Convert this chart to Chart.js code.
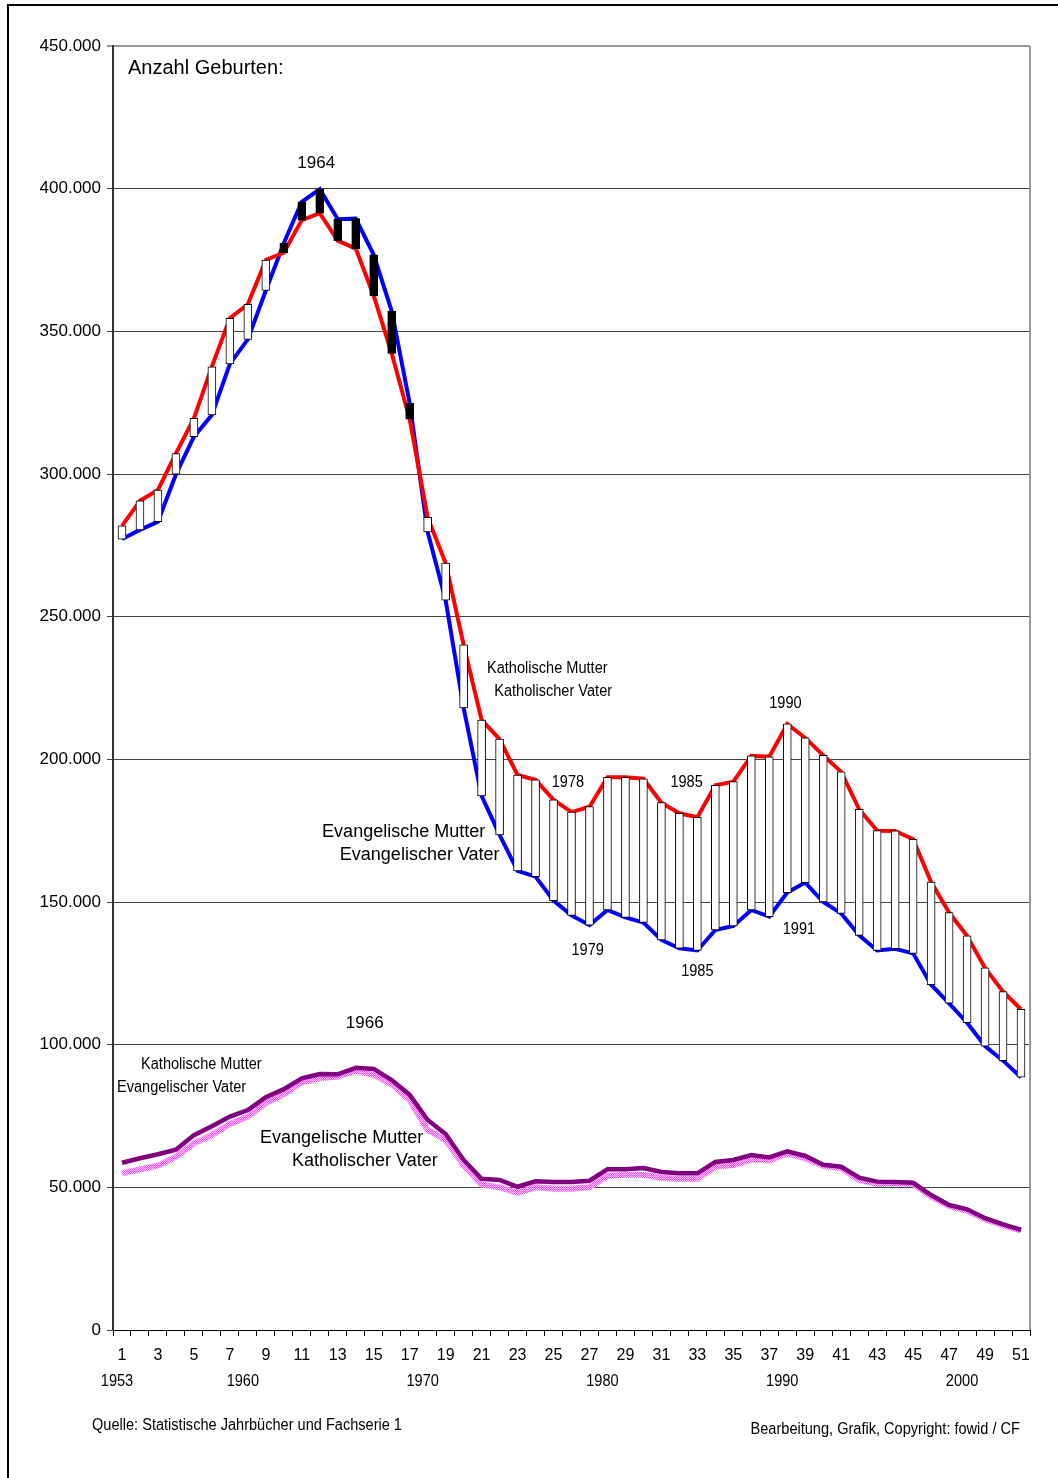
<!DOCTYPE html>
<html lang="de">
<head>
<meta charset="utf-8">
<title>Anzahl Geburten</title>
<script src="https://cdn.jsdelivr.net/npm/chart.js@4.4.1/dist/chart.umd.min.js"></script>
<style>
  html, body { margin: 0; padding: 0; background: #fff; overflow: hidden; }
  #rahmen {
    position: absolute; left: 7px; top: 4px; width: 1200px; height: 1600px;
    border-top: 2px solid #000; border-left: 2px solid #000;
  }
  #box { position: absolute; left: 0; top: 0; width: 1058px; height: 1478px; }
</style>
</head>
<body>
<div id="rahmen"></div>
<div id="box"><canvas id="geburtenChart"></canvas></div>
<script>
const nummern = [
  "1", "2", "3", "4", "5", "6", "7", "8", "9", "10",
  "11", "12", "13", "14", "15", "16", "17", "18", "19", "20",
  "21", "22", "23", "24", "25", "26", "27", "28", "29", "30",
  "31", "32", "33", "34", "35", "36", "37", "38", "39", "40",
  "41", "42", "43", "44", "45", "46", "47", "48", "49", "50", "51"
];
const jahrPos = [1, 8, 18, 28, 38, 48];
const jahrText = ["1953", "1960", "1970", "1980", "1990", "2000"];

// Katholische Mutter / Katholischer Vater
const kathKath = [
  281800, 290600, 294400, 307200, 319500, 337600, 354600, 359500, 375000, 377600,
  389000, 391400, 381800, 379000, 362500, 342300, 319200, 284800, 268800, 240100,
  213800, 207100, 194500, 192800, 185800, 181500, 183400, 193700, 193700, 193200,
  184800, 181100, 179700, 190900, 192200, 201200, 200900, 212400, 207500, 201400,
  195600, 182500, 175000, 174900, 172000, 157000, 146300, 138100, 126900, 118600, 112400
];
// Evangelische Mutter / Evangelischer Vater
const evEv = [
  277200, 280400, 283300, 299900, 313100, 320700, 338600, 347200, 364300, 380900,
  395400, 399800, 389300, 389500, 376800, 357100, 324800, 279700, 255800, 218000,
  187200, 173500, 160900, 158900, 150500, 145300, 141900, 147200, 144600, 142800,
  136700, 133800, 133000, 140200, 141600, 147200, 144900, 153300, 156800, 150000,
  146000, 138300, 133000, 133600, 132000, 121000, 114500, 107700, 99500, 94400, 88600
];
// Katholische Mutter / Evangelischer Vater
const kathEv = [
  58600, 60200, 61600, 63200, 68300, 71400, 74800, 77100, 81600, 84400,
  88200, 89700, 89600, 91900, 91500, 87600, 82400, 73600, 68700, 59600,
  53000, 52600, 50200, 52100, 51900, 51900, 52300, 56300, 56300, 56800,
  55400, 54900, 54900, 58900, 59600, 61300, 60500, 62600, 61000, 57900,
  57200, 53400, 52000, 51900, 51600, 47300, 43800, 42300, 39200, 37000, 35100
];
// Evangelische Mutter / Katholischer Vater
const evKath = [
  54900, 56300, 57600, 60700, 65400, 68300, 72200, 74800, 79500, 82600,
  86800, 88200, 88800, 90800, 89400, 86100, 80600, 70100, 66600, 57800,
  50900, 50000, 48100, 50000, 49500, 49500, 50000, 54000, 54400, 54400,
  53300, 53000, 53000, 57200, 57800, 59800, 59400, 61900, 60200, 57500,
  56700, 52600, 51200, 51400, 51200, 46700, 43500, 41800, 38800, 36700, 34800
];

const SCHRIFT = "'Liberation Sans', Arial, sans-serif";
const SCHMAL = 0.91; // horizontale Stauchung fuer die schmale Schrift

// Beschriftungen im Diagramm (x = Kategorie-Index, y = Wert), n = schmal
const notizen = [
  { t: "1964", x: 10.8, y: 409000, a: "center", n: false, s: 17 },
  { t: "Katholische Mutter", x: 20.3, y: 231700, a: "left", n: true, s: 16 },
  { t: "Katholischer Vater", x: 20.7, y: 223600, a: "left", n: true, s: 16 },
  { t: "1990", x: 36.9, y: 219400, a: "center", n: true, s: 16 },
  { t: "1978", x: 24.8, y: 191700, a: "center", n: true, s: 16 },
  { t: "1985", x: 31.4, y: 192000, a: "center", n: true, s: 16 },
  { t: "Evangelische Mutter", x: 20.2, y: 174500, a: "right", n: false, s: 18 },
  { t: "Evangelischer Vater", x: 21.0, y: 166500, a: "right", n: false, s: 18 },
  { t: "1979", x: 25.9, y: 132800, a: "center", n: true, s: 16 },
  { t: "1985", x: 32.0, y: 125500, a: "center", n: true, s: 16 },
  { t: "1991", x: 37.65, y: 140200, a: "center", n: true, s: 16 },
  { t: "1966", x: 13.5, y: 107600, a: "center", n: false, s: 17 },
  { t: "Katholische Mutter", x: 1.06, y: 92900, a: "left", n: true, s: 16 },
  { t: "Evangelischer Vater", x: -0.28, y: 84800, a: "left", n: true, s: 16 },
  { t: "Evangelische Mutter", x: 7.68, y: 67300, a: "left", n: false, s: 18 },
  { t: "Katholischer Vater", x: 9.45, y: 59200, a: "left", n: false, s: 18 }
];

function rosaMuster() {
  const c = document.createElement("canvas");
  c.width = 2; c.height = 2;
  const g = c.getContext("2d");
  g.fillStyle = "#ff4dff";
  g.fillRect(0, 0, 2, 2);
  g.fillStyle = "#ffd0ff";
  g.fillRect(0, 0, 1, 1);
  g.fillRect(1, 1, 1, 1);
  return g.createPattern(c, "repeat");
}

function tausender(v) {
  return String(v).replace(/\B(?=(\d{3})+(?!\d))/g, ".");
}

function text(ctx, t, x, y, align, size, schmal) {
  ctx.save();
  ctx.font = size + "px " + SCHRIFT;
  ctx.textAlign = align;
  ctx.textBaseline = "middle";
  ctx.translate(x, y);
  if (schmal) ctx.scale(SCHMAL, 1);
  ctx.fillText(t, 0, 0);
  ctx.restore();
}

const textPlugin = {
  id: "texte",
  afterDatasetsDraw(chart) {
    const ctx = chart.ctx;
    const xs = chart.scales.x, ys = chart.scales.y;
    const area = chart.chartArea;
    ctx.save();
    // rechter Rahmen des Diagrammbereichs
    ctx.strokeStyle = "#999";
    ctx.lineWidth = 2;
    ctx.beginPath();
    ctx.moveTo(area.right, area.top);
    ctx.lineTo(area.right, area.bottom);
    ctx.stroke();
    ctx.fillStyle = "#000";

    text(ctx, "Anzahl Geburten:", area.left + 15, area.top + 22, "left", 20, false);

    notizen.forEach(n => {
      text(ctx, n.t, xs.getPixelForValue(n.x), ys.getPixelForValue(n.y), n.a, n.s, n.n);
    });

    // Jahreszahlen unter der Achse
    jahrPos.forEach((p, i) => {
      text(ctx, jahrText[i], xs.getPixelForValue(p - 1) - 5, area.bottom + 52, "center", 16, true);
    });

    text(ctx, "Quelle: Statistische Jahrbücher und Fachserie 1", 92, 1426, "left", 16, true);
    text(ctx, "Bearbeitung, Grafik, Copyright: fowid / CF", 1020, 1430, "right", 16, true);
    ctx.restore();
  }
};

const ctx = document.getElementById("geburtenChart").getContext("2d");
const chart = new Chart(ctx, {
  type: "bar",
  data: {
    labels: nummern,
    datasets: [
      {
        type: "bar",
        label: "Differenz",
        data: kathKath.map((r, i) => [evEv[i], r]),
        backgroundColor: kathKath.map((r, i) => r >= evEv[i] ? "#ffffff" : "#000000"),
        borderColor: "#000",
        borderWidth: 1,
        borderSkipped: false,
        barThickness: 8,
        order: 0
      },
      {
        type: "line",
        label: "Katholische Mutter, Katholischer Vater",
        data: kathKath,
        borderColor: "#ff0000",
        borderWidth: 4,
        pointRadius: 0,
        tension: 0,
        order: 1
      },
      {
        type: "line",
        label: "Evangelische Mutter, Evangelischer Vater",
        data: evEv,
        borderColor: "#0000ff",
        borderWidth: 4,
        pointRadius: 0,
        tension: 0,
        order: 2
      },
      {
        type: "line",
        label: "Katholische Mutter, Evangelischer Vater",
        data: kathEv,
        borderColor: "#800080",
        borderWidth: 4.5,
        pointRadius: 0,
        tension: 0,
        order: 3
      },
      {
        type: "line",
        label: "Evangelische Mutter, Katholischer Vater",
        data: evKath,
        borderColor: rosaMuster(),
        borderWidth: 6,
        pointRadius: 0,
        tension: 0,
        order: 4
      }
    ]
  },
  options: {
    responsive: true,
    maintainAspectRatio: false,
    animation: false,
    layout: { padding: { left: 0, top: 46, right: 28, bottom: 0 } },
    plugins: {
      legend: { display: false },
      tooltip: { enabled: false }
    },
    scales: {
      x: {
        offset: true,
        grid: { offset: true, drawOnChartArea: false, tickLength: 6, color: "#000" },
        border: { color: "#000", width: 1 },
        ticks: {
          autoSkip: false,
          maxRotation: 0,
          padding: 10,
          color: "#000",
          font: { family: SCHRIFT, size: 16 },
          callback: (v, i) => i % 2 === 0 ? nummern[i] : ""
        },
        afterFit: s => { s.height = 148; }
      },
      y: {
        min: 0,
        max: 450000,
        grid: {
          tickLength: 6,
          color: c => c.tick && c.tick.value === 450000 ? "#999" : "#444",
          lineWidth: c => c.tick && c.tick.value === 450000 ? 2 : 1
        },
        border: { color: "#333", width: 2 },
        ticks: {
          stepSize: 50000,
          padding: 6,
          color: "#000",
          font: { family: SCHRIFT, size: 17 },
          callback: v => tausender(v)
        },
        afterFit: s => { s.width = 113; }
      }
    }
  },
  plugins: [textPlugin]
});
</script>
</body>
</html>
